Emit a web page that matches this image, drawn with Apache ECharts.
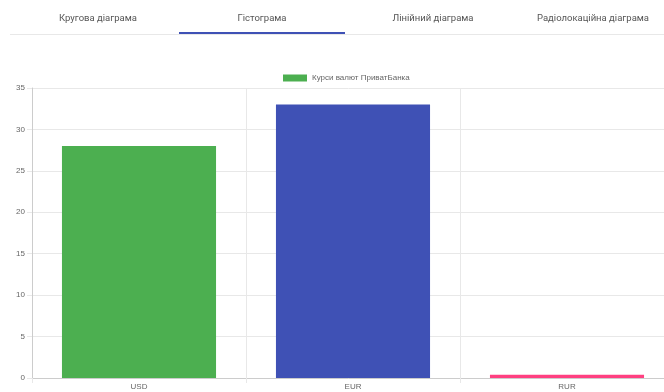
<!DOCTYPE html>
<html><head><meta charset="utf-8">
<script src="https://cdn.jsdelivr.net/npm/echarts@6/dist/echarts.min.js"></script>
<style>html,body{margin:0;padding:0;background:#fff}#c{width:664px;height:392px}</style>
</head><body><div id="c"></div>
<script>
const tabs = ['Кругова діаграма', 'Гістограма', 'Лінійний діаграма', 'Радіолокаційна діаграма'];
const tabCenters = [98, 262, 433, 593];
const categories = ['USD', 'EUR', 'RUR'];
const values = [28, 33, 0.4];
const barColors = ['#4caf50', '#3f51b5', '#ff4081'];
const seriesName = 'Курси валют ПриватБанка';
const yTicks = { min: 0, max: 35, interval: 5 };

const chart = echarts.init(document.getElementById('c'), null, { renderer: 'canvas' });
const graphic = [
  { type: 'rect', shape: { x: 10, y: 34, width: 654, height: 1 }, style: { fill: '#e8e8e8' } },
  { type: 'rect', shape: { x: 179, y: 32, width: 166, height: 2 }, style: { fill: '#3f51b5' } }
];
tabs.forEach((t, i) => graphic.push({
  type: 'text', x: tabCenters[i], y: 19,
  style: { text: t, fill: '#555', font: '9.5px Roboto, Arial, sans-serif', align: 'center', verticalAlign: 'middle' }
}));
chart.setOption({
  animation: false,
  graphic,
  legend: {
    top: 69, left: 278, itemWidth: 24, itemHeight: 7, itemGap: 5,
    icon: 'rect',
    textStyle: { color: '#666', fontSize: 8, fontFamily: 'Arial' },
    data: [{ name: seriesName, itemStyle: { color: '#4caf50' } }]
  },
  grid: { left: 32, width: 642, top: 88, bottom: 14, containLabel: false, outerBoundsMode: 'none' },
  xAxis: {
    type: 'category', data: categories,
    axisLine: { lineStyle: { color: '#ccc' } },
    axisTick: { show: true, length: 5, lineStyle: { color: '#e8e8e8' } },
    axisLabel: { color: '#666', fontSize: 8, margin: 5, fontFamily: 'Arial' },
    splitLine: { show: true, lineStyle: { color: '#e8e8e8' } }
  },
  yAxis: {
    type: 'value', min: yTicks.min, max: yTicks.max, interval: yTicks.interval,
    axisLine: { show: true, lineStyle: { color: '#ccc' } },
    axisTick: { show: true, length: 5, lineStyle: { color: '#e8e8e8' } },
    axisLabel: { color: '#666', fontSize: 8, margin: 7, fontFamily: 'Arial' },
    splitLine: { show: true, lineStyle: { color: '#e8e8e8' } }
  },
  series: [{
    name: seriesName, type: 'bar', barWidth: '72%',
    data: values.map((v, i) => ({ value: v, itemStyle: { color: barColors[i] } }))
  }]
});
</script></body></html>
